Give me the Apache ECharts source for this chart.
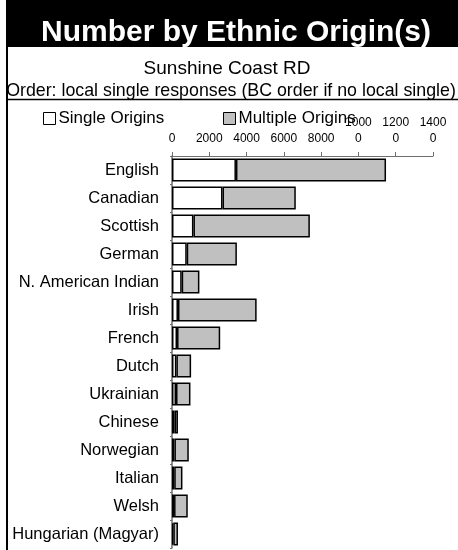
<!DOCTYPE html>
<html>
<head>
<meta charset="utf-8">
<script src="https://cdn.jsdelivr.net/npm/echarts@6/dist/echarts.min.js"></script>
<style>
  html, body { margin: 0; padding: 0; background: #fff; }
  #chart { width: 458px; height: 550px; }
</style>
</head>
<body>
<div id="chart"></div>
<script>
const origins = [
  'English', 'Canadian', 'Scottish', 'German', 'N. American Indian', 'Irish', 'French',
  'Dutch', 'Ukrainian', 'Chinese', 'Norwegian', 'Italian', 'Welsh', 'Hungarian (Magyar)'
]
const singleOrigins = [3430, 2710, 1150, 790, 520, 320, 270, 235, 215, 140, 130, 120, 110, 70]
const multipleOrigins = [8050, 3930, 6245, 2690, 950, 4220, 2315, 790, 775, 180, 770, 440, 735, 250]
const axisTicks = [0, 2000, 4000, 6000, 8000, 10000, 12000, 14000]

const font = "'Liberation Sans', Arial, sans-serif"
const chart = echarts.init(document.getElementById('chart'))

// long tick labels wrap after 4 chars like the original
const tickLabel = (v) => {
  const s = String(v)
  return s.length > 4 ? s.slice(0, 4) + '\n' + s.slice(4) : s
}

const legendBase = {
  orient: 'horizontal',
  padding: 0,
  itemWidth: 12,
  itemHeight: 12,
  icon: 'rect',
  selectedMode: false,
  itemStyle: { borderColor: '#000', borderWidth: 1 },
  textStyle: { fontFamily: font, fontSize: 17, color: '#000', padding: [0, 0, 0, -2] },
}

chart.setOption({
  animation: false,
  graphic: [
    { type: 'rect', shape: { x: 6, y: 0, width: 460, height: 47 }, style: { fill: '#000' } },
    { type: 'line', shape: { x1: 7, y1: 0, x2: 7, y2: 560 }, style: { stroke: '#000', lineWidth: 2 } },
    { type: 'line', shape: { x1: 7, y1: 99.5, x2: 460, y2: 99.5 }, style: { stroke: '#000', lineWidth: 1.5 } },
    {
      type: 'text', x: 236, y: 33,
      style: { text: 'Number by Ethnic Origin(s)', fill: '#fff', font: 'bold 30px ' + font, textAlign: 'center', textVerticalAlign: 'middle' },
    },
    {
      type: 'text', x: 227, y: 69,
      style: { text: 'Sunshine Coast RD', fill: '#000', font: '19px ' + font, textAlign: 'center', textVerticalAlign: 'middle' },
    },
    {
      type: 'text', x: 231, y: 91,
      style: { text: 'Order: local single responses (BC order if no local single)', fill: '#000', font: '17.8px ' + font, textAlign: 'center', textVerticalAlign: 'middle' },
    },
  ],
  legend: [
    { ...legendBase, left: 43, top: 110, data: ['Single Origins'] },
    { ...legendBase, left: 223, top: 110, data: ['Multiple Origins'] },
  ],
  grid: { left: 172, right: 25, top: 156, bottom: 2, containLabel: false },
  xAxis: {
    type: 'value',
    position: 'top',
    min: axisTicks[0],
    max: axisTicks[axisTicks.length - 1],
    interval: 2000,
    axisLine: { show: true, lineStyle: { color: '#6e6e6e', width: 1 } },
    axisTick: { show: true, length: 4, lineStyle: { color: '#6e6e6e' } },
    splitLine: { show: false },
    axisLabel: {
      formatter: tickLabel,
      fontFamily: font,
      fontSize: 12,
      lineHeight: 16,
      color: '#000',
      margin: 9,
    },
  },
  yAxis: {
    type: 'category',
    inverse: true,
    data: origins,
    axisLine: { show: true, lineStyle: { color: '#6e6e6e', width: 1.5 } },
    axisTick: { show: true, length: 2, lineStyle: { color: '#6e6e6e' } },
    axisLabel: { fontFamily: font, fontSize: 16.5, color: '#000', margin: 13 },
  },
  series: [
    {
      name: 'Single Origins',
      type: 'bar',
      stack: 'total',
      data: singleOrigins,
      barCategoryGap: '18%',
      itemStyle: { color: '#fff', borderColor: '#000', borderWidth: 1.5 },
      emphasis: { disabled: true },
    },
    {
      name: 'Multiple Origins',
      type: 'bar',
      stack: 'total',
      data: multipleOrigins,
      barCategoryGap: '18%',
      itemStyle: { color: '#c0c0c0', borderColor: '#000', borderWidth: 1.5 },
      emphasis: { disabled: true },
    },
  ],
})
</script>
</body>
</html>
